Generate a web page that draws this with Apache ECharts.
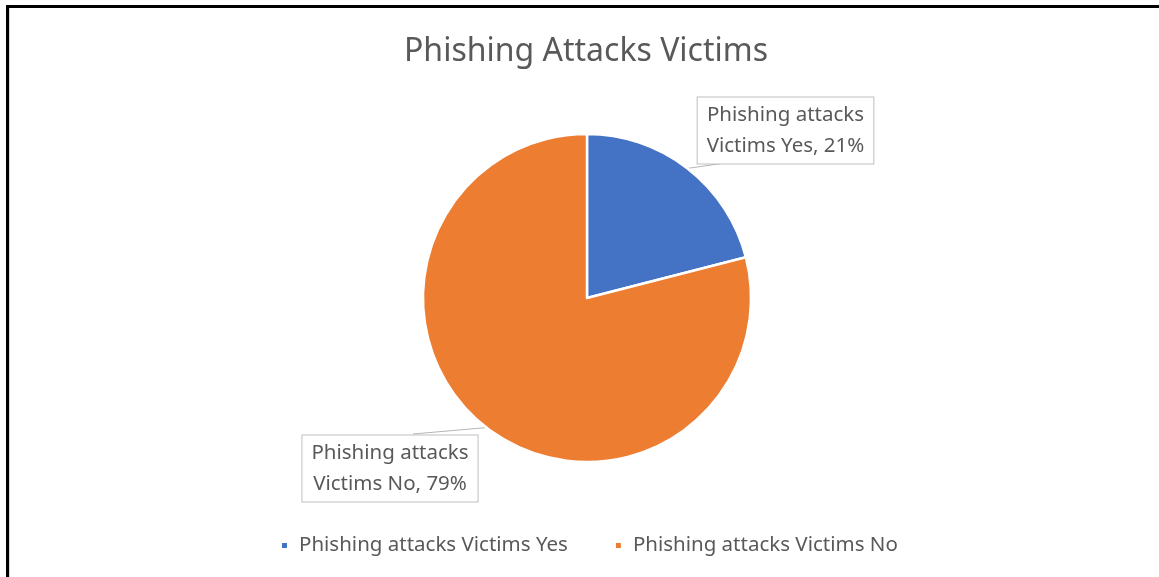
<!DOCTYPE html>
<html>
<head>
<meta charset="utf-8">
<script src="https://cdn.jsdelivr.net/npm/echarts@6/dist/echarts.min.js"></script>
<style>
  html, body { margin: 0; padding: 0; background: #fff; }
  #frame {
    position: absolute; left: 6px; top: 5px; width: 1153px; height: 572px;
    border-left: 3px solid #000; border-top: 3px solid #000; box-sizing: border-box;
    box-shadow: inset 1px 0 0 #d9d9d9;
  }
  #chart { position: absolute; left: 0; top: 0; width: 1159px; height: 577px; }
</style>
</head>
<body>
<div id="frame"></div>
<div id="chart"></div>
<script>
// Survey result: share of respondents who fell victim to phishing
const chartTitle = 'Phishing Attacks Victims';
const categories = ['Phishing attacks Victims Yes', 'Phishing attacks Victims No'];
const shares = [21, 79];
const sliceColors = ['#4472C4', '#ED7D31'];

const FONT = '"Noto Sans", "Open Sans", sans-serif';
const TEXT = '#595959';

const chart = echarts.init(document.getElementById('chart'), null, { renderer: 'canvas' });

// Centre of each callout box, and where its leader line meets the box
const calloutPos = [
  { x: 785.5, y: 130.5, hookX: 725, hookY: 163 },
  { x: 390, y: 468.5, hookX: 413, hookY: 434 }
];

chart.setOption({
  animation: false,
  backgroundColor: 'transparent',
  title: {
    text: chartTitle,
    left: 399,
    top: 31,
    textStyle: { fontFamily: FONT, fontSize: 32, fontWeight: 'normal', color: TEXT }
  },
  legend: {
    bottom: 16,
    left: 275,
    icon: 'rect',
    itemWidth: 7,
    itemHeight: 7,
    itemGap: 46,
    textStyle: { fontFamily: FONT, fontSize: 20.5, color: TEXT, padding: [0, 0, 0, 6] },
    data: categories
  },
  series: [{
    type: 'pie',
    center: [587, 298],
    radius: 164,
    startAngle: 90,
    clockwise: true,
    itemStyle: { borderColor: '#fff', borderWidth: 2.5 },
    label: {
      show: true,
      position: 'outside',
      fontFamily: FONT,
      fontSize: 20.5,
      lineHeight: 31,
      color: TEXT,
      backgroundColor: '#fff',
      borderColor: '#bfbfbf',
      borderWidth: 1,
      padding: [2, 9, 2, 9],
      formatter: function (p) {
        const words = p.name.split(' ');
        return words.slice(0, 2).join(' ') + '\n' + words.slice(2).join(' ') + ', ' + p.value + '%';
      }
    },
    labelLine: {
      show: true,
      length: 10,
      length2: 10,
      lineStyle: { color: '#b4b4b4', width: 1 }
    },
    labelLayout: function (params) {
      const pos = calloutPos[params.dataIndex];
      const anchor = params.labelLinePoints ? params.labelLinePoints[0] : [pos.hookX, pos.hookY];
      return {
        x: pos.x, y: pos.y, align: 'center', verticalAlign: 'middle',
        labelLinePoints: [anchor, [pos.hookX, pos.hookY]]
      };
    },
    data: categories.map(function (name, i) {
      return { name: name, value: shares[i], itemStyle: { color: sliceColors[i] } };
    })
  }]
});
</script>
</body>
</html>
